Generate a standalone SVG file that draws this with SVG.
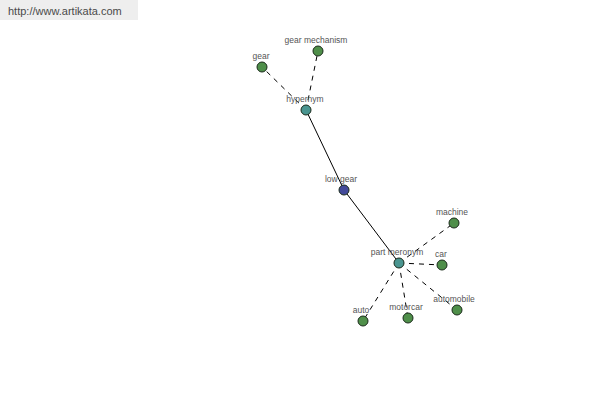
<svg xmlns="http://www.w3.org/2000/svg" width="600" height="400" viewBox="0 0 600 400">
<style>
.n{stroke:#1a2a1a;stroke-width:1}
.leaf{fill:#4f8f4a}
.rel{fill:#4a9590}
.root{fill:#434a9a}
.lb{font-family:"Liberation Sans",Arial,sans-serif;font-size:8.5px;fill:#555;text-anchor:middle}
.d{stroke:#000;stroke-width:1;stroke-dasharray:5,5;fill:none}
.s{stroke:#000;stroke-width:1;fill:none}
</style>
<rect x="0" y="0" width="600" height="400" fill="#fff"/>
<rect x="0" y="0" width="138" height="20" fill="#eeeeee"/>
<text x="8" y="15" font-family="Liberation Sans,Arial,sans-serif" font-size="11" fill="#4a4a4a">http://www.artikata.com</text>
<g id="connectors">
<line class="d" x1="306" y1="110" x2="262" y2="67"/>
<line class="d" x1="306" y1="110" x2="318" y2="51"/>
<line class="s" x1="306" y1="110" x2="344" y2="190"/>
<line class="s" x1="344" y1="190" x2="399" y2="263"/>
<line class="d" x1="399" y1="263" x2="454" y2="223"/>
<line class="d" x1="399" y1="263" x2="442" y2="265"/>
<line class="d" x1="399" y1="263" x2="457" y2="310"/>
<line class="d" x1="399" y1="263" x2="408" y2="318"/>
<line class="d" x1="399" y1="263" x2="363" y2="321"/>
</g>
<g id="gear"><circle class="n leaf" cx="262" cy="67" r="5"/><text class="lb" x="261" y="59">gear</text></g>
<g id="gear-mechanism"><circle class="n leaf" cx="318" cy="51" r="5"/><text class="lb" x="316" y="43">gear mechanism</text></g>
<g id="hypernym"><circle class="n rel" cx="306" cy="110" r="5"/><text class="lb" x="305" y="102">hypernym</text></g>
<g id="low-gear"><circle class="n root" cx="344" cy="190" r="5"/><text class="lb" x="341" y="182">low gear</text></g>
<g id="part-meronym"><circle class="n rel" cx="399" cy="263" r="5"/><text class="lb" x="397" y="255">part meronym</text></g>
<g id="machine"><circle class="n leaf" cx="454" cy="223" r="5"/><text class="lb" x="452" y="215">machine</text></g>
<g id="car"><circle class="n leaf" cx="442" cy="265" r="5"/><text class="lb" x="441" y="257">car</text></g>
<g id="automobile"><circle class="n leaf" cx="457" cy="310" r="5"/><text class="lb" x="454" y="302">automobile</text></g>
<g id="motorcar"><circle class="n leaf" cx="408" cy="318" r="5"/><text class="lb" x="406" y="310">motorcar</text></g>
<g id="auto"><circle class="n leaf" cx="363" cy="321" r="5"/><text class="lb" x="361" y="313">auto</text></g>
</svg>
